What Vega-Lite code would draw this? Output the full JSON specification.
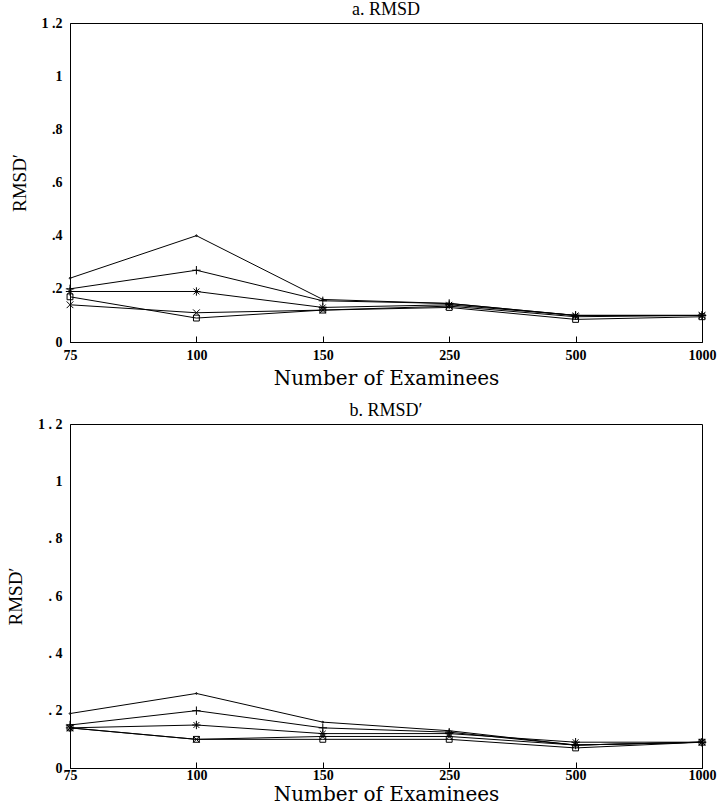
{
  "$schema": "https://vega.github.io/schema/vega-lite/v6.json",
  "padding": {"left": 6, "top": 0, "right": 0, "bottom": 0},
  "spacing": 12,
  "background": "white",
  "config": {
    "view": {"stroke": "black", "strokeWidth": 1},
    "axis": {"domainColor": "black", "grid": false, "labelFont": "Liberation Serif", "labelFontWeight": "bold", "labelFontSize": 14, "labelColor": "black", "titleColor": "black"},
    "title": {"font": "Liberation Serif", "fontSize": 18, "fontWeight": "normal", "color": "black", "offset": -3, "frame": "group"}
  },
  "datasets": {
    "a": [
      {"n": 75, "s": "dot", "v": 0.24}, {"n": 100, "s": "dot", "v": 0.40}, {"n": 150, "s": "dot", "v": 0.16}, {"n": 250, "s": "dot", "v": 0.145}, {"n": 500, "s": "dot", "v": 0.10}, {"n": 1000, "s": "dot", "v": 0.10},
      {"n": 75, "s": "plus", "v": 0.20}, {"n": 100, "s": "plus", "v": 0.27}, {"n": 150, "s": "plus", "v": 0.155}, {"n": 250, "s": "plus", "v": 0.145}, {"n": 500, "s": "plus", "v": 0.10}, {"n": 1000, "s": "plus", "v": 0.10},
      {"n": 75, "s": "asterisk", "v": 0.19}, {"n": 100, "s": "asterisk", "v": 0.19}, {"n": 150, "s": "asterisk", "v": 0.13}, {"n": 250, "s": "asterisk", "v": 0.14}, {"n": 500, "s": "asterisk", "v": 0.10}, {"n": 1000, "s": "asterisk", "v": 0.10},
      {"n": 75, "s": "x", "v": 0.14}, {"n": 100, "s": "x", "v": 0.11}, {"n": 150, "s": "x", "v": 0.12}, {"n": 250, "s": "x", "v": 0.135}, {"n": 500, "s": "x", "v": 0.095}, {"n": 1000, "s": "x", "v": 0.10},
      {"n": 75, "s": "square", "v": 0.17}, {"n": 100, "s": "square", "v": 0.09}, {"n": 150, "s": "square", "v": 0.12}, {"n": 250, "s": "square", "v": 0.13}, {"n": 500, "s": "square", "v": 0.085}, {"n": 1000, "s": "square", "v": 0.095}
    ],
    "b": [
      {"n": 75, "s": "dot", "v": 0.19}, {"n": 100, "s": "dot", "v": 0.26}, {"n": 150, "s": "dot", "v": 0.16}, {"n": 250, "s": "dot", "v": 0.13}, {"n": 500, "s": "dot", "v": 0.08}, {"n": 1000, "s": "dot", "v": 0.09},
      {"n": 75, "s": "plus", "v": 0.15}, {"n": 100, "s": "plus", "v": 0.20}, {"n": 150, "s": "plus", "v": 0.14}, {"n": 250, "s": "plus", "v": 0.125}, {"n": 500, "s": "plus", "v": 0.08}, {"n": 1000, "s": "plus", "v": 0.09},
      {"n": 75, "s": "asterisk", "v": 0.14}, {"n": 100, "s": "asterisk", "v": 0.15}, {"n": 150, "s": "asterisk", "v": 0.12}, {"n": 250, "s": "asterisk", "v": 0.12}, {"n": 500, "s": "asterisk", "v": 0.09}, {"n": 1000, "s": "asterisk", "v": 0.09},
      {"n": 75, "s": "x", "v": 0.14}, {"n": 100, "s": "x", "v": 0.10}, {"n": 150, "s": "x", "v": 0.11}, {"n": 250, "s": "x", "v": 0.11}, {"n": 500, "s": "x", "v": 0.08}, {"n": 1000, "s": "x", "v": 0.09},
      {"n": 75, "s": "square", "v": 0.14}, {"n": 100, "s": "square", "v": 0.10}, {"n": 150, "s": "square", "v": 0.10}, {"n": 250, "s": "square", "v": 0.10}, {"n": 500, "s": "square", "v": 0.07}, {"n": 1000, "s": "square", "v": 0.09}
    ]
  },
  "vconcat": [
    {
      "title": {"text": "a. RMSD"},
      "width": 632,
      "height": 319,
      "data": {"name": "a"},
      "encoding": {
        "x": {"field": "n", "type": "ordinal", "scale": {"type": "point", "padding": 0}, "sort": [75, 100, 150, 250, 500, 1000],
          "axis": {"labelAngle": 0, "tickSize": -6, "tickColor": "black", "labelPadding": 12, "title": "Number of Examinees", "titleFont": "DejaVu Serif", "titleFontSize": 20, "titleFontWeight": "normal", "titlePadding": 6}},
        "y": {"field": "v", "type": "quantitative", "scale": {"domain": [0, 1.2]},
          "axis": {"values": [0, 0.2, 0.4, 0.6, 0.8, 1, 1.2], "ticks": false, "labelPadding": 8, "labelExpr": "datum.value == 0 ? '0' : datum.value == 1 ? '1' : datum.value > 1 ? '1 .2' : replace(format(datum.value, '.1f'), '0.', '.')", "title": "RMSD′", "titleFont": "Liberation Serif", "titleFontSize": 19, "titleFontWeight": "normal", "titlePadding": 12}}
      },
      "layer": [
        {"mark": {"type": "line", "color": "black", "strokeWidth": 1}, "encoding": {"detail": {"field": "s"}}},
        {"mark": {"type": "point", "filled": false, "color": "black", "strokeWidth": 1, "size": 70, "opacity": 1},
          "encoding": {"shape": {"field": "s", "scale": {"domain": ["dot", "plus", "asterisk", "x", "square"], "range": ["M-0.2,0A0.2,0.2 0 1,0 0.2,0A0.2,0.2 0 1,0 -0.2,0Z", "M-1,0L1,0M0,-1L0,1", "M-1,0L1,0M0,-1L0,1M-0.7,-0.7L0.7,0.7M-0.7,0.7L0.7,-0.7", "M-0.8,-0.8L0.8,0.8M-0.8,0.8L0.8,-0.8", "M-0.7,-0.7L0.7,-0.7L0.7,0.7L-0.7,0.7Z"]}, "legend": null}}}
      ]
    },
    {
      "title": {"text": "b. RMSD′"},
      "width": 632,
      "height": 344,
      "data": {"name": "b"},
      "encoding": {
        "x": {"field": "n", "type": "ordinal", "scale": {"type": "point", "padding": 0}, "sort": [75, 100, 150, 250, 500, 1000],
          "axis": {"labelAngle": 0, "tickSize": -6, "tickColor": "black", "labelPadding": 6, "title": "Number of Examinees", "titleFont": "DejaVu Serif", "titleFontSize": 20, "titleFontWeight": "normal", "titlePadding": 2}},
        "y": {"field": "v", "type": "quantitative", "scale": {"domain": [0, 1.2]},
          "axis": {"values": [0, 0.2, 0.4, 0.6, 0.8, 1, 1.2], "ticks": false, "labelPadding": 8, "labelExpr": "datum.value == 0 ? '0' : datum.value == 1 ? '1' : datum.value > 1 ? '1 . 2' : replace(format(datum.value, '.1f'), '0.', '. ')", "title": "RMSD′", "titleFont": "Liberation Serif", "titleFontSize": 19, "titleFontWeight": "normal", "titlePadding": 12}}
      },
      "layer": [
        {"mark": {"type": "line", "color": "black", "strokeWidth": 1}, "encoding": {"detail": {"field": "s"}}},
        {"mark": {"type": "point", "filled": false, "color": "black", "strokeWidth": 1, "size": 70, "opacity": 1},
          "encoding": {"shape": {"field": "s", "scale": {"domain": ["dot", "plus", "asterisk", "x", "square"], "range": ["M-0.2,0A0.2,0.2 0 1,0 0.2,0A0.2,0.2 0 1,0 -0.2,0Z", "M-1,0L1,0M0,-1L0,1", "M-1,0L1,0M0,-1L0,1M-0.7,-0.7L0.7,0.7M-0.7,0.7L0.7,-0.7", "M-0.8,-0.8L0.8,0.8M-0.8,0.8L0.8,-0.8", "M-0.7,-0.7L0.7,-0.7L0.7,0.7L-0.7,0.7Z"]}, "legend": null}}}
      ]
    }
  ]
}
